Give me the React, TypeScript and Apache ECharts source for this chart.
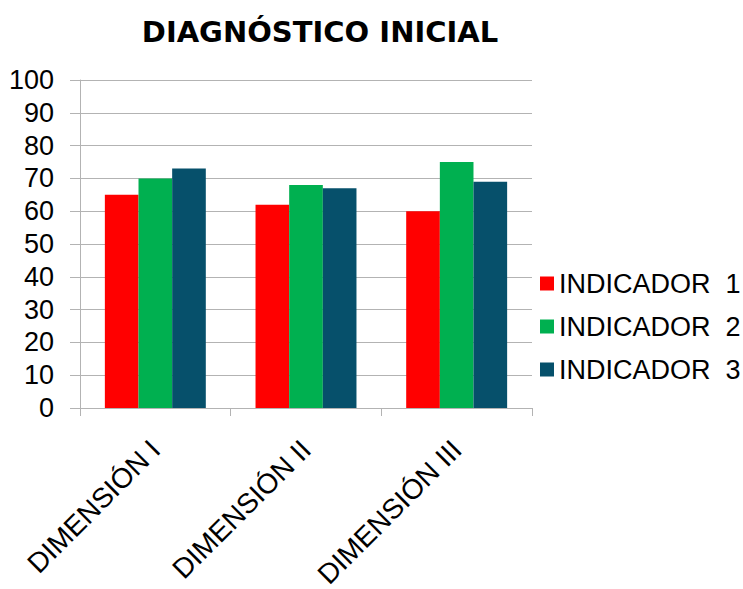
import React, { useEffect, useRef } from "react";
import * as echarts from "echarts";

const categories = ["DIMENSIÓN I", "DIMENSIÓN II", "DIMENSIÓN III"];
const seriesNames = ["INDICADOR  1", "INDICADOR  2", "INDICADOR  3"];
const indicador1 = [65, 62, 60];
const indicador2 = [70, 68, 75];
const indicador3 = [73, 67, 69];
const colors = ["#ff0000", "#00b050", "#06506b"];
const titleText = "DIAGNÓSTICO INICIAL";

export default function App() {
  const ref = useRef<HTMLDivElement>(null);
  useEffect(() => {
    document.body.style.margin = "0";
    const chart = echarts.init(ref.current!, undefined, { renderer: "svg" });
    const font = "'Liberation Sans', Arial, sans-serif";
    const data = [indicador1, indicador2, indicador3];
    chart.setOption({
      animation: false,
      backgroundColor: "#ffffff",
      title: {
        text: titleText,
        left: 315,
        top: 12,
        textAlign: "center",
        textStyle: {
          fontFamily: "'DejaVu Sans', Verdana, sans-serif",
          fontWeight: "bold",
          fontSize: 29,
          color: "#000",
        },
      },
      legend: {
        orient: "vertical",
        left: 535,
        top: 265,
        itemWidth: 14,
        itemHeight: 14,
        itemGap: 16,
        icon: "rect",
        textStyle: { fontFamily: font, fontSize: 27, color: "#000" },
        data: seriesNames,
      },
      grid: {
        left: 80,
        right: 211,
        top: 80,
        bottom: 181,
        containLabel: false,
        outerBoundsMode: "none",
      },
      xAxis: {
        type: "category",
        data: categories,
        axisLine: { lineStyle: { color: "#b3b3b3", width: 1 } },
        axisTick: { show: true, length: 8, lineStyle: { color: "#b3b3b3" } },
        axisLabel: {
          rotate: 45,
          margin: 37,
          fontFamily: font,
          fontSize: 28,
          color: "#000",
          interval: 0,
        },
      },
      yAxis: {
        type: "value",
        min: 0,
        max: 100,
        interval: 10,
        axisLine: { show: true, lineStyle: { color: "#b3b3b3", width: 1 } },
        axisTick: { show: true, length: 10, lineStyle: { color: "#b3b3b3" } },
        splitLine: { lineStyle: { color: "#b3b3b3", width: 1 } },
        axisLabel: { margin: 26, fontFamily: font, fontSize: 27, color: "#000" },
      },
      series: seriesNames.map((name, i) => ({
        name,
        type: "bar",
        data: data[i],
        barGap: "0%",
        barCategoryGap: "33%",
        itemStyle: { color: colors[i] },
      })),
    });
    return () => chart.dispose();
  }, []);
  return <div ref={ref} style={{ width: 743, height: 589 }} />;
}
